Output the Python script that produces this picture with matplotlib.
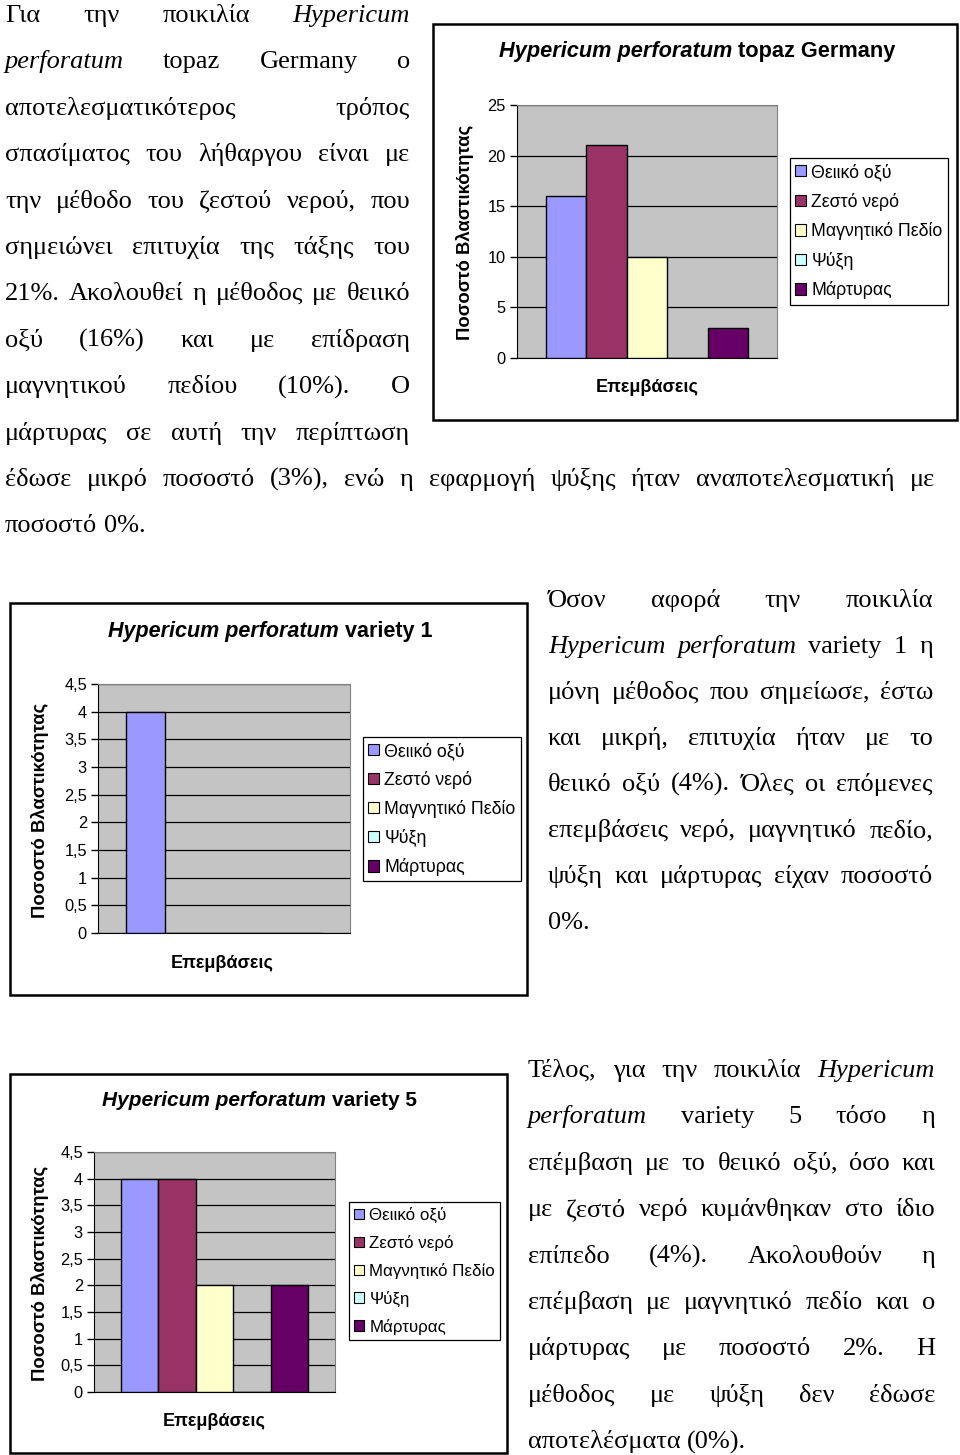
import numpy as np
import matplotlib
matplotlib.use('Agg')
import matplotlib.pyplot as plt
from matplotlib.patches import Patch, Rectangle

W, H = 960, 1455

# data
treatments = ['Θειικό οξύ', 'Ζεστό νερό', 'Μαγνητικό Πεδίο', 'Ψύξη', 'Μάρτυρας']
bar_colors = ['#9999FF', '#993366', '#FFFFCC', '#CCFFFF', '#660066']

topaz = [16, 21, 10, 0, 3]
variety1 = [4, 0, 0, 0, 0]
variety5 = [4, 4, 2, 0, 2]

ticks_topaz = [0, 5, 10, 15, 20, 25]
ticks_var = [0, 0.5, 1, 1.5, 2, 2.5, 3, 3.5, 4, 4.5]

ylabel = 'Ποσοστό Βλαστικότητας'
xlabel = 'Επεμβάσεις'

para1 = [
    'Για την ποικιλία Hypericum',
    'perforatum topaz Germany ο',
    'αποτελεσματικότερος τρόπος',
    'σπασίματος του λήθαργου είναι με',
    'την μέθοδο του ζεστού νερού, που',
    'σημειώνει επιτυχία της τάξης του',
    '21%. Ακολουθεί η μέθοδος με θειικό',
    'οξύ (16%) και με επίδραση',
    'μαγνητικού πεδίου (10%). Ο',
    'μάρτυρας σε αυτή την περίπτωση',
]
para1_wide = ['έδωσε μικρό ποσοστό (3%), ενώ η εφαρμογή ψύξης ήταν αναποτελεσματική με',
              'ποσοστό 0%.']
para2 = [
    'Όσον αφορά την ποικιλία',
    'Hypericum perforatum variety 1 η',
    'μόνη μέθοδος που σημείωσε, έστω',
    'και μικρή, επιτυχία ήταν με το',
    'θειικό οξύ (4%). Όλες οι επόμενες',
    'επεμβάσεις νερό, μαγνητικό πεδίο,',
    'ψύξη και μάρτυρας είχαν ποσοστό',
    '0%.',
]
para3 = [
    'Τέλος, για την ποικιλία Hypericum',
    'perforatum variety 5 τόσο η',
    'επέμβαση με το θειικό οξύ, όσο και',
    'με ζεστό νερό κυμάνθηκαν στο ίδιο',
    'επίπεδο (4%). Ακολουθούν η',
    'επέμβαση με μαγνητικό πεδίο και ο',
    'μάρτυρας με ποσοστό 2%. Η',
    'μέθοδος με ψύξη δεν έδωσε',
    'αποτελέσματα (0%).',
]
italic_words = ['Hypericum', 'perforatum']

SERIF = 'Liberation Serif'
SANS = 'Liberation Sans'
TXT = 19

fig = plt.figure(figsize=(W / 100, H / 100), dpi=100)
bg = fig.add_axes([0, 0, 1, 1])
bg.set_xlim(0, W)
bg.set_ylim(H, 0)
bg.axis('off')
renderer = fig.canvas.get_renderer()


def justify(lines, x0, x1, y0, step, last_left=True):
    for i, line in enumerate(lines):
        words = line.split()
        y = y0 + i * step
        texts = []
        for w in words:
            st = 'italic' if w.strip('.,') in italic_words else 'normal'
            texts.append(bg.text(0, y, w, fontsize=TXT, family=SERIF, style=st,
                                 va='baseline', ha='left'))
        widths = [t.get_window_extent(renderer).width for t in texts]
        if (last_left and i == len(lines) - 1) or len(words) == 1:
            gap = TXT * 100 / 72 * 0.25
        else:
            gap = (x1 - x0 - sum(widths)) / (len(words) - 1)
        x = x0
        for t, w in zip(texts, widths):
            t.set_x(x)
            x += w + gap


def title_runs(parts, xc, y, size):
    gap = size * 100 / 72 * 0.28
    texts = [bg.text(0, y, s, fontsize=size, family=SANS, weight='bold', style=st,
                     va='center', ha='left') for s, st in parts]
    widths = [t.get_window_extent(renderer).width for t in texts]
    x = xc - (sum(widths) + gap * (len(parts) - 1)) / 2
    for t, w in zip(texts, widths):
        t.set_x(x)
        x += w + gap


def chart(frame, plot, values, ticks, title, legend_xy, tsize, lsize, ypos, xpos, lspace=0.62):
    fx0, fy0, fx1, fy1 = frame
    bg.add_patch(Rectangle((fx0, fy0), fx1 - fx0, fy1 - fy0, fill=False, lw=1.8, ec='black'))
    px0, py0, px1, py1 = plot
    ax = fig.add_axes([px0 / W, 1 - py1 / H, (px1 - px0) / W, (py1 - py0) / H])
    ax.set_facecolor('#C4C4C4')
    bw = 0.78 / len(values)
    for i, (v, c) in enumerate(zip(values, bar_colors)):
        ax.bar((i - 2) * bw, v, width=bw, color=c, edgecolor='black', lw=1, zorder=3)
    ax.set_xlim(-0.5, 0.5)
    ax.set_ylim(ticks[0], ticks[-1])
    ax.set_yticks(ticks)
    ax.set_yticklabels([f'{t:g}'.replace('.', ',') for t in ticks], family=SANS)
    ax.set_xticks([])
    ax.yaxis.grid(True, color='black', lw=0.9)
    ax.set_axisbelow(True)
    ax.tick_params(axis='y', direction='out', length=5, width=1, labelsize=11.8, pad=3)
    for s in ['top', 'right']:
        ax.spines[s].set_color('#808080')
    for s in ['left', 'bottom']:
        ax.spines[s].set_color('black')
    title_runs(title, (fx0 + fx1) / 2 + tsize[1], tsize[2], tsize[0])
    bg.text(ypos[0], ypos[1], ylabel, rotation=90, fontsize=13.3, family=SANS, weight='bold',
            ha='center', va='center')
    bg.text(xpos[0], xpos[1], xlabel, fontsize=13, family=SANS, weight='bold',
            ha='center', va='center')
    handles = [Patch(facecolor=c, edgecolor='black', lw=0.8, label=t)
               for t, c in zip(treatments, bar_colors)]
    leg = ax.legend(handles=handles, loc='upper left',
                    bbox_to_anchor=(legend_xy[0] / W, 1 - legend_xy[1] / H),
                    bbox_transform=fig.transFigure, borderaxespad=0,
                    prop={'family': SANS, 'size': lsize},
                    handlelength=0.6, handleheight=0.6, handletextpad=0.3,
                    labelspacing=lspace, borderpad=0.3, fancybox=False,
                    framealpha=1, edgecolor='black')
    leg.get_frame().set_linewidth(0.9)
    return ax


chart((433, 24, 957, 420), (517, 105, 777, 358), topaz, ticks_topaz,
      [('Hypericum perforatum', 'italic'), ('topaz Germany', 'normal')],
      (790, 158), (15.7, 2, 52), 12.8, (465, 232), (647, 388), 0.65)
chart((10, 603, 527, 995), (98, 684, 350, 933), variety1, ticks_var,
      [('Hypericum perforatum', 'italic'), ('variety 1', 'normal')],
      (363, 737), (15.5, 2, 631), 12.8, (40, 810), (222, 963), 0.62)
chart((10, 1074, 507, 1453), (94, 1152, 335, 1392), variety5, ticks_var,
      [('Hypericum perforatum', 'italic'), ('variety 5', 'normal')],
      (349, 1202), (15, 1, 1100), 12.2, (40, 1273), (214, 1421), 0.7)

justify(para1, 5, 410, 22, 46.4, last_left=False)
justify(para1_wide, 5, 935, 22 + 10 * 46.4, 46.4)
justify(para2, 548, 933, 607, 46)
justify(para3, 528, 935, 1077, 46.4)

fig.savefig('out.png', dpi=100)
